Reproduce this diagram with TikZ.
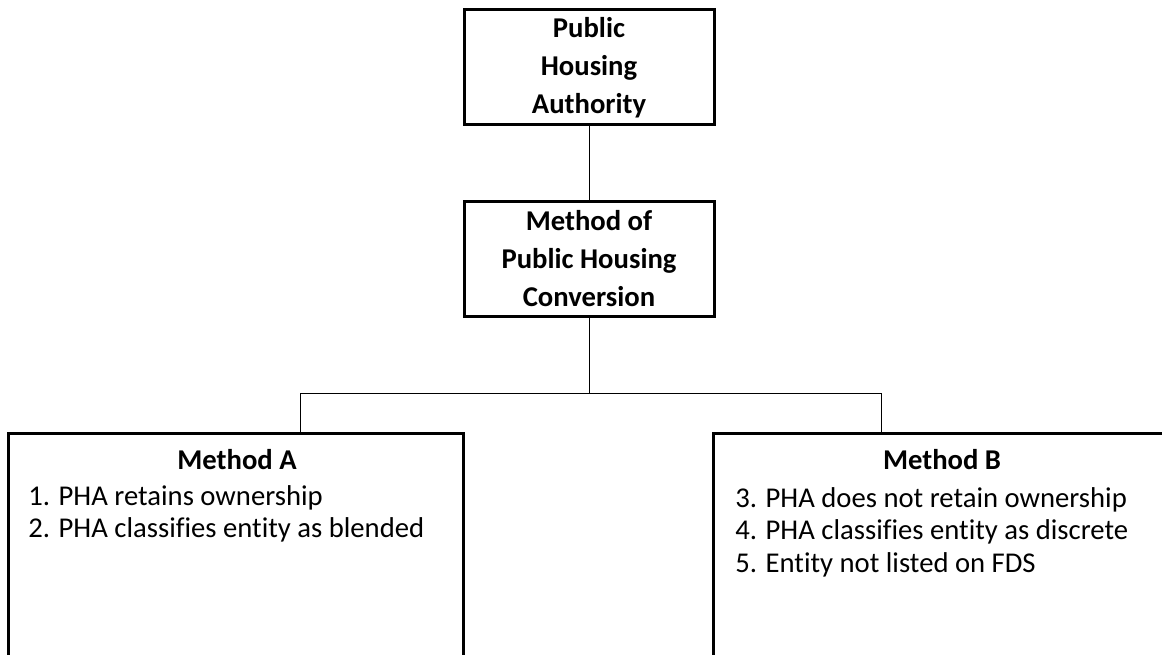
\documentclass[tikz,border=0pt]{standalone}
\usepackage{fontspec}
\setmainfont[Ligatures=CommonOff]{Carlito}
\begin{document}
\begin{tikzpicture}[x=0.75pt, y=-0.75pt,
    headbox/.style={shape=rectangle, draw=black, line width=2.25pt, outer sep=0pt,
      minimum width=187.5pt, minimum height=86.25pt, align=center,
      font=\fontsize{21.5}{28.5}\selectfont\bfseries},
    methodbox/.style={shape=rectangle, draw=black, line width=2.25pt, outer sep=0pt,
      anchor=north west, minimum height=240pt},
    methodtitle/.style={anchor=base, inner sep=0pt, font=\fontsize{21.5}{24}\selectfont\bfseries},
    listline/.style={anchor=base west, inner sep=0pt, font=\fontsize{21.5}{24}\selectfont},
    link/.style={line width=0.75pt}]
    \useasboundingbox (0,0) rectangle (1162,655);
    \clip (0,0) rectangle (1162,655);
    % upper boxes
    \node[headbox] (pha) at (589,67.5) {Public\\Housing\\Authority};
    \node[headbox] (conv) at (589,259) {Method of\\Public Housing\\Conversion};
    % lower boxes
    \node[methodbox, minimum width=341.25pt] (ma) at (8,433) {};
    \node[methodbox, minimum width=343.5pt] (mb) at (713,433) {};
    \node[methodtitle] (titleA) at (237,469) {Method A};
    \node[methodtitle] (titleB) at (942,469) {Method B};
    \foreach \txt [count=\i] in {1. PHA retains ownership, 2. PHA classifies entity as blended}
        \node[listline] (itemA\i) at (28,473+32*\i) {\txt};
    \foreach \txt [count=\i] in {3. PHA does not retain ownership, 4. PHA classifies entity as discrete, 5. Entity not listed on FDS}
        \node[listline] (itemB\i) at (735,474.5+32.5*\i) {\txt};
    % connectors
    \coordinate (barA) at (300,393);
    \coordinate (barB) at (881,393);
    \draw[link] (pha) -- (conv);
    \draw[link] (conv) -- (conv |- barA);
    \draw[link] (barA) -- (barB);
    \draw[link] (barA) -- (barA |- ma.north);
    \draw[link] (barB) -- (barB |- mb.north);
\end{tikzpicture}
\end{document}
